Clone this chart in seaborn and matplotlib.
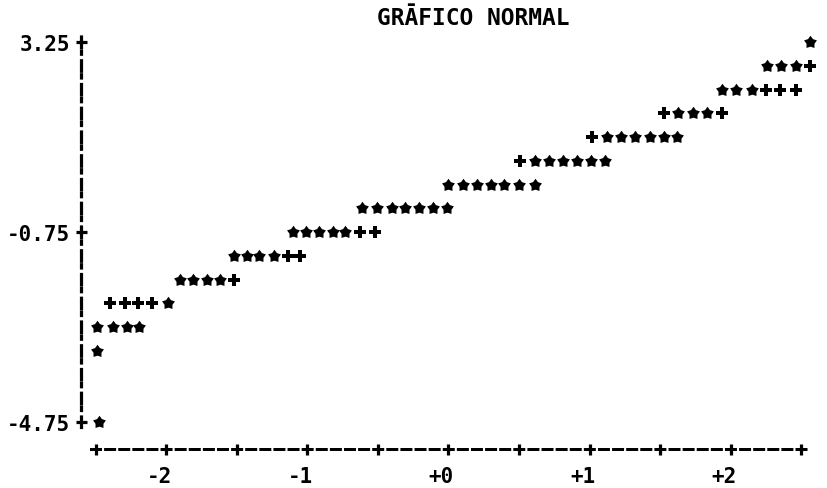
import matplotlib
matplotlib.use("Agg")
import matplotlib.pyplot as plt
import matplotlib.transforms as mtransforms
from matplotlib.path import Path
import seaborn as sns
import pandas as pd

# ---------------- data ----------------
# data points ('*')
star_score = [
    -2.48,
    -2.49,
    -2.49, -2.38, -2.28, -2.19,
    -1.99,
    -1.90, -1.81, -1.71, -1.62,
    -1.52, -1.43, -1.34, -1.24,
    -1.10, -1.01, -0.92, -0.82, -0.73,
    -0.61, -0.51, -0.40, -0.31, -0.21, -0.11, -0.01,
    0.00, 0.10, 0.20, 0.30, 0.39, 0.50, 0.61,
    0.61, 0.71, 0.81, 0.91, 1.01, 1.11,
    1.12, 1.22, 1.32, 1.43, 1.53, 1.62,
    1.63, 1.73, 1.83,
    1.94, 2.04, 2.15,
    2.26, 2.36, 2.46,
    2.56,
]
star_resid = [
    -4.75,
    -3.25,
    -2.75, -2.75, -2.75, -2.75,
    -2.25,
    -1.75, -1.75, -1.75, -1.75,
    -1.25, -1.25, -1.25, -1.25,
    -0.75, -0.75, -0.75, -0.75, -0.75,
    -0.25, -0.25, -0.25, -0.25, -0.25, -0.25, -0.25,
    0.25, 0.25, 0.25, 0.25, 0.25, 0.25, 0.25,
    0.75, 0.75, 0.75, 0.75, 0.75, 0.75,
    1.25, 1.25, 1.25, 1.25, 1.25, 1.25,
    1.75, 1.75, 1.75,
    2.25, 2.25, 2.25,
    2.75, 2.75, 2.75,
    3.25,
]
# reference-line points ('+')
plus_score = [
    -2.40, -2.29, -2.20, -2.10,
    -1.52,
    -1.14, -1.05,
    -0.63, -0.52,
    0.51,
    1.02,
    1.53, 1.94,
    2.25, 2.35, 2.46,
    2.56,
]
plus_resid = [
    -2.25, -2.25, -2.25, -2.25,
    -1.75,
    -1.25, -1.25,
    -0.75, -0.75,
    0.75,
    1.25,
    1.75, 1.75,
    2.25, 2.25, 2.25,
    2.75,
]

y_tick_values = [3.25, -0.75, -4.75]
y_tick_labels = ["3.25", "-0.75", "-4.75"]
x_tick_values = [-2, -1, 0, 1, 2]
x_tick_labels = ["-2", "-1", "+0", "+1", "+2"]
x_minor_ticks = [-2.5, -1.5, -0.5, 0.5, 1.5, 2.5]
title_text = "GRĀFICO NORMAL"

# ---------------- style ----------------
sns.set_style("white")
plt.rcParams["font.family"] = ["DejaVu Sans Mono", "DejaVu Sans"]
plt.rcParams["font.weight"] = "bold"
plt.rcParams["lines.scale_dashes"] = False
plt.rcParams["axes.unicode_minus"] = False

PX = 0.72  # points per pixel at 100 dpi

fig = plt.figure(figsize=(8.27, 4.89), dpi=100)
fig.patch.set_facecolor("white")
ax = fig.add_axes([81 / 827, 39 / 489, 739 / 827, 420 / 489])
ax.set_facecolor("white")

stars = pd.DataFrame({"score": star_score, "resid": star_resid})
pluses = pd.DataFrame({"score": plus_score, "resid": plus_resid})

fat_star = Path.unit_regular_star(5, 0.62)

sns.scatterplot(data=stars, x="score", y="resid", marker=fat_star,
                s=(13.5 * PX) ** 2, color="black", linewidth=0, ax=ax)
sns.scatterplot(data=pluses, x="score", y="resid", marker="P",
                s=(12 * PX) ** 2, color="black", linewidth=0, ax=ax)

ax.set_xlim(-2.6045, 2.6329)
ax.set_ylim(-5.3184, 3.5237)
ax.set_xlabel("")
ax.set_ylabel("")

# spines drawn like line-printer characters ('!' column and '+----+' row)
ax.spines["top"].set_visible(False)
ax.spines["right"].set_visible(False)
left = ax.spines["left"]
left.set_color("black")
left.set_linewidth(3.2 * PX)
left.set_bounds(-4.75 - 5 / 47.5, 3.25 + 6 / 47.5)
left.set_linestyle((0, (10.5 * PX, 6.5 * PX, 3.25 * PX, 3.5 * PX)))
bottom = ax.spines["bottom"]
bottom.set_color("black")
bottom.set_linewidth(3 * PX)
bottom.set_bounds(-2.5 - 4.5 / 141.1, 2.5 + 4.5 / 141.1)
bottom.set_linestyle((0, (9 * PX, 5.11 * PX)))

ax.set_xticks(x_tick_values, labels=x_tick_labels)
ax.set_xticks(x_minor_ticks, minor=True)
ax.set_yticks(y_tick_values, labels=y_tick_labels)
ax.tick_params(axis="both", which="both", direction="inout", length=11 * PX,
               width=3.2 * PX, color="black", labelcolor="black",
               bottom=True, left=True)
ax.tick_params(axis="x", which="major", labelsize=15, pad=8)
ax.tick_params(axis="y", which="major", labelsize=15, pad=4)

offset = mtransforms.ScaledTranslation(-7 / 100, 0, fig.dpi_scale_trans)
for lbl in ax.get_xticklabels():
    lbl.set_transform(lbl.get_transform() + offset)

ax.set_title(title_text, x=0.5305, pad=3.5, fontsize=16.5,
             fontweight="bold", color="black")

fig.savefig("out.png", dpi=100, facecolor="white")
